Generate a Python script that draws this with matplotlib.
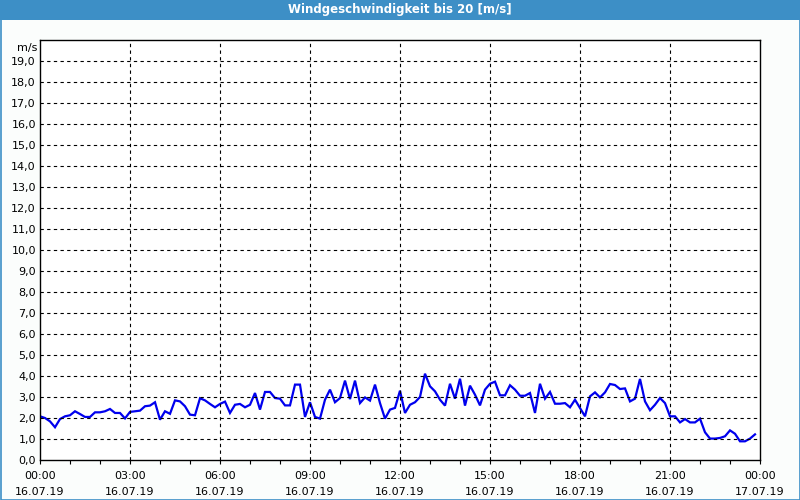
import numpy as np
import matplotlib.pyplot as plt
from matplotlib.patches import Rectangle

# Windgeschwindigkeit, 10-Minuten-Werte 16.07.19 00:00 .. 23:50
wind = [2.08, 2.00, 1.84, 1.56, 1.95, 2.08, 2.13, 2.32, 2.19, 2.05,
        2.05, 2.27, 2.27, 2.32, 2.43, 2.24, 2.24, 1.98, 2.29, 2.32,
        2.35, 2.56, 2.59, 2.75, 1.92, 2.32, 2.20, 2.84, 2.79, 2.56,
        2.16, 2.13, 2.94, 2.84, 2.67, 2.51, 2.67, 2.78, 2.24, 2.63,
        2.67, 2.51, 2.63, 3.19, 2.40, 3.24, 3.24, 2.95, 2.92, 2.60,
        2.60, 3.59, 3.59, 2.05, 2.75, 2.05, 1.97, 2.87, 3.35, 2.75,
        2.95, 3.78, 2.90, 3.78, 2.71, 2.98, 2.83, 3.59, 2.71, 1.97,
        2.40, 2.48, 3.30, 2.24, 2.63, 2.75, 3.00, 4.11, 3.51, 3.27,
        2.87, 2.59, 3.63, 2.92, 3.87, 2.59, 3.54, 3.11, 2.60, 3.35,
        3.63, 3.73, 3.08, 3.08, 3.56, 3.35, 3.06, 3.06, 3.19, 2.24,
        3.63, 2.92, 3.24, 2.68, 2.68, 2.71, 2.51, 2.87, 2.48, 2.08,
        3.03, 3.22, 2.98, 3.22, 3.62, 3.57, 3.38, 3.41, 2.79, 2.92,
        3.86, 2.79, 2.37, 2.63, 2.95, 2.71, 2.08, 2.08, 1.79, 1.95,
        1.79, 1.79, 1.97, 1.32, 1.02, 1.02, 1.05, 1.13, 1.41, 1.25,
        0.89, 0.89, 1.02, 1.22]
hours = np.arange(len(wind)) / 6.0

xticks = [0, 3, 6, 9, 12, 15, 18, 21, 24]
xlabels = ['00:00\n16.07.19', '03:00\n16.07.19', '06:00\n16.07.19',
           '09:00\n16.07.19', '12:00\n16.07.19', '15:00\n16.07.19',
           '18:00\n16.07.19', '21:00\n16.07.19', '00:00\n17.07.19']
yticks = list(range(0, 20))
ylabels = ['%d,0' % v for v in yticks]

title = 'Windgeschwindigkeit bis 20 [m/s]'
bar_col = '#3d8fc6'

fig = plt.figure(figsize=(8, 5), dpi=100, facecolor='#fbfdfc')
ax = fig.add_axes([40/800, 40/500, 720/800, 420/500])
ax.set_facecolor('white')

ax.plot(hours, wind, color='#0000ee', lw=1.6, solid_joinstyle='miter')

ax.set_xlim(0, 24)
ax.set_ylim(0, 20)
ax.set_xticks(xticks)
ax.set_xticklabels(xlabels, fontsize=8, linespacing=1.7)
ax.set_xticks(range(0, 25), minor=True)
ax.set_yticks(yticks)
ax.set_yticklabels(ylabels, fontsize=8)
ax.tick_params(axis='x', which='both', length=3, width=0.8, colors='black', pad=5)
ax.tick_params(axis='y', length=0, pad=3)

# Gitter
for h in xticks[1:-1]:
    ax.axvline(h, color='black', lw=0.8, ls=(0, (3, 3)))
for v in range(1, 20):
    ax.axhline(v, color='black', lw=0.8, ls=(0, (3, 3)))

for s in ax.spines.values():
    s.set_color('black')
    s.set_linewidth(1)

ax.text(-0.1, 19.6, 'm/s', ha='right', va='center', fontsize=8, clip_on=False)

# Titelleiste und Rahmen
fig.patches.append(Rectangle((0, 1 - 20/500), 1, 20/500, transform=fig.transFigure,
                             facecolor=bar_col, edgecolor='none', zorder=0))
fig.patches.append(Rectangle((0.5/800, 0.5/500), 799/800, 499/500, transform=fig.transFigure,
                             facecolor='none', edgecolor=bar_col, lw=1.2, zorder=0))
fig.text(0.5, 1 - 10/500, title, color='white', fontsize=8.5, fontweight='bold',
         ha='center', va='center')

fig.savefig('out.png', dpi=100, facecolor=fig.get_facecolor())
